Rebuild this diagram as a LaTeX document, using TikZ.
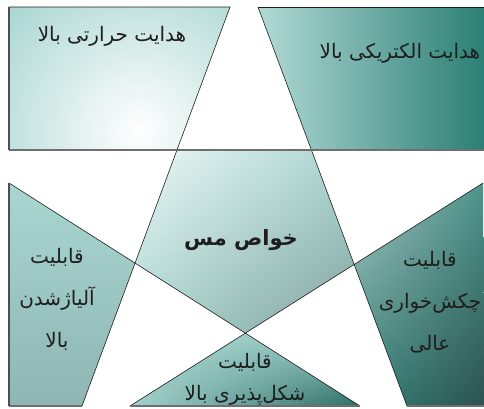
\documentclass[tikz,border=0pt]{standalone}
\usepackage{fontspec}
\usepackage{tikz}
\usetikzlibrary{shadings}
\newfontfamily\farsi[Script=Arabic]{DejaVu Sans}
\TeXXeTstate=1
\definecolor{ink}{HTML}{1E1E1E}
\definecolor{rim}{HTML}{6F6F6F}
\definecolor{pale}{HTML}{A9D6D1}
\definecolor{deep}{HTML}{2B7F74}
\definecolor{slate}{HTML}{2F4343}
\newcommand{\fa}[1]{{\farsi\beginR #1\endR}}

\begin{document}
\begin{tikzpicture}[x=1pt,y=-1pt,
  label/.style={font=\fontsize{20}{42}\selectfont,align=center,text=ink,inner sep=0pt},
  edge/.style={ink,line width=.6pt},
  rimline/.style={rim,line width=1.3pt}]
\useasboundingbox (0,0) rectangle (484,408);
\coordinate (c1) at (230,7);\coordinate (c2) at (82,406);
\coordinate (d1) at (258,7);\coordinate (d2) at (407,406);
\coordinate (a1) at (9,183);\coordinate (a2) at (360,406);
\coordinate (b1) at (483,183);\coordinate (b2) at (130,406);
\coordinate (h1) at (0,150);\coordinate (h2) at (484,150);
\coordinate (tl) at (intersection of c1--c2 and h1--h2);
\coordinate (tr) at (intersection of d1--d2 and h1--h2);
\coordinate (ml) at (intersection of c1--c2 and a1--a2);
\coordinate (mr) at (intersection of d1--d2 and b1--b2);
\coordinate (mb) at (intersection of a1--a2 and b1--b2);

\begin{scope}
\clip (9,7) -- (c1) -- (tl) -- (9,150) -- cycle;
\shade[inner color=white,outer color=pale] (138,130) circle (180);
\end{scope}
\begin{scope}
\clip (d1) -- (484,7) -- (484,150) -- (tr) -- cycle;
\shade[left color=pale!90!white,right color=deep] (258,7) rectangle (484,150);
\end{scope}
\begin{scope}
\clip (tl) -- (tr) -- (mr) -- (mb) -- (ml) -- cycle;
\shade[upper left=white!80!pale,upper right=pale,lower left=pale,lower right=pale!70!slate!80!gray]
  (ml |- tl) rectangle (mr |- mb);
\end{scope}
\begin{scope}
\clip (a1) -- (ml) -- (c2) -- (9,406) -- cycle;
\shade[top color=pale,bottom color=pale!78!slate] (9,183) rectangle (140,406);
\end{scope}
\begin{scope}
\clip (b1) -- (mr) -- (d2) -- (484,406) -- cycle;
\shade[upper left=pale!70!gray!85!white,upper right=deep!75!pale,lower left=deep!95!pale,lower right=slate!75!deep]
  (353,183) rectangle (484,406);
\end{scope}
\begin{scope}
\clip (mb) -- (a2) -- (b2) -- cycle;
\shade[upper left=pale,upper right=pale!85!deep,lower left=pale!95!deep,lower right=deep!70!slate]
  (130,333) rectangle (360,406);
\end{scope}

\draw[edge] (9,7) -- (c1) -- (tl);
\draw[edge] (d1) -- (484,7);
\draw[edge] (d1) -- (tr);
\draw[edge] (tl) -- (ml) -- (mb) -- (mr) -- (tr);
\draw[edge] (a1) -- (ml) -- (c2);
\draw[edge] (b1) -- (mr) -- (d2);
\draw[edge] (b2) -- (mb) -- (a2);
\draw[rimline] (9,150) -- (484,150);
\draw[rimline] (9,406) -- (c2);
\draw[rimline] (b2) -- (a2);
\draw[rimline] (d2) -- (484,406);
\draw[rimline,rim!70!black] (9,7) -- (9,150);
\draw[rimline,rim!70!black] (a1) -- (9,406);

\node[label] (heat) at (112,36) {\fa{هدایت حرارتی بالا}};
\node[label] (elec) at (400,53) {\fa{هدایت الکتریکی بالا}};
\node[label,font=\fontsize{21}{42}\selectfont\bfseries] (copper) at (241,240) {\fa{خواص مس}};
\node[label] (alloy) at (57,299) {\fa{قابلیت}\\\fa{آلیاژشدن}\\\fa{بالا}};
\node[label] (ductile) at (430,302) {\fa{قابلیت}\\\fa{چکش^^^^200cخواری}\\\fa{عالی}};
\node[label,font=\fontsize{20}{32}\selectfont] (form) at (245,379) {\fa{قابلیت}\\\fa{شکل^^^^200cپذیری بالا}};
\end{tikzpicture}
\end{document}
